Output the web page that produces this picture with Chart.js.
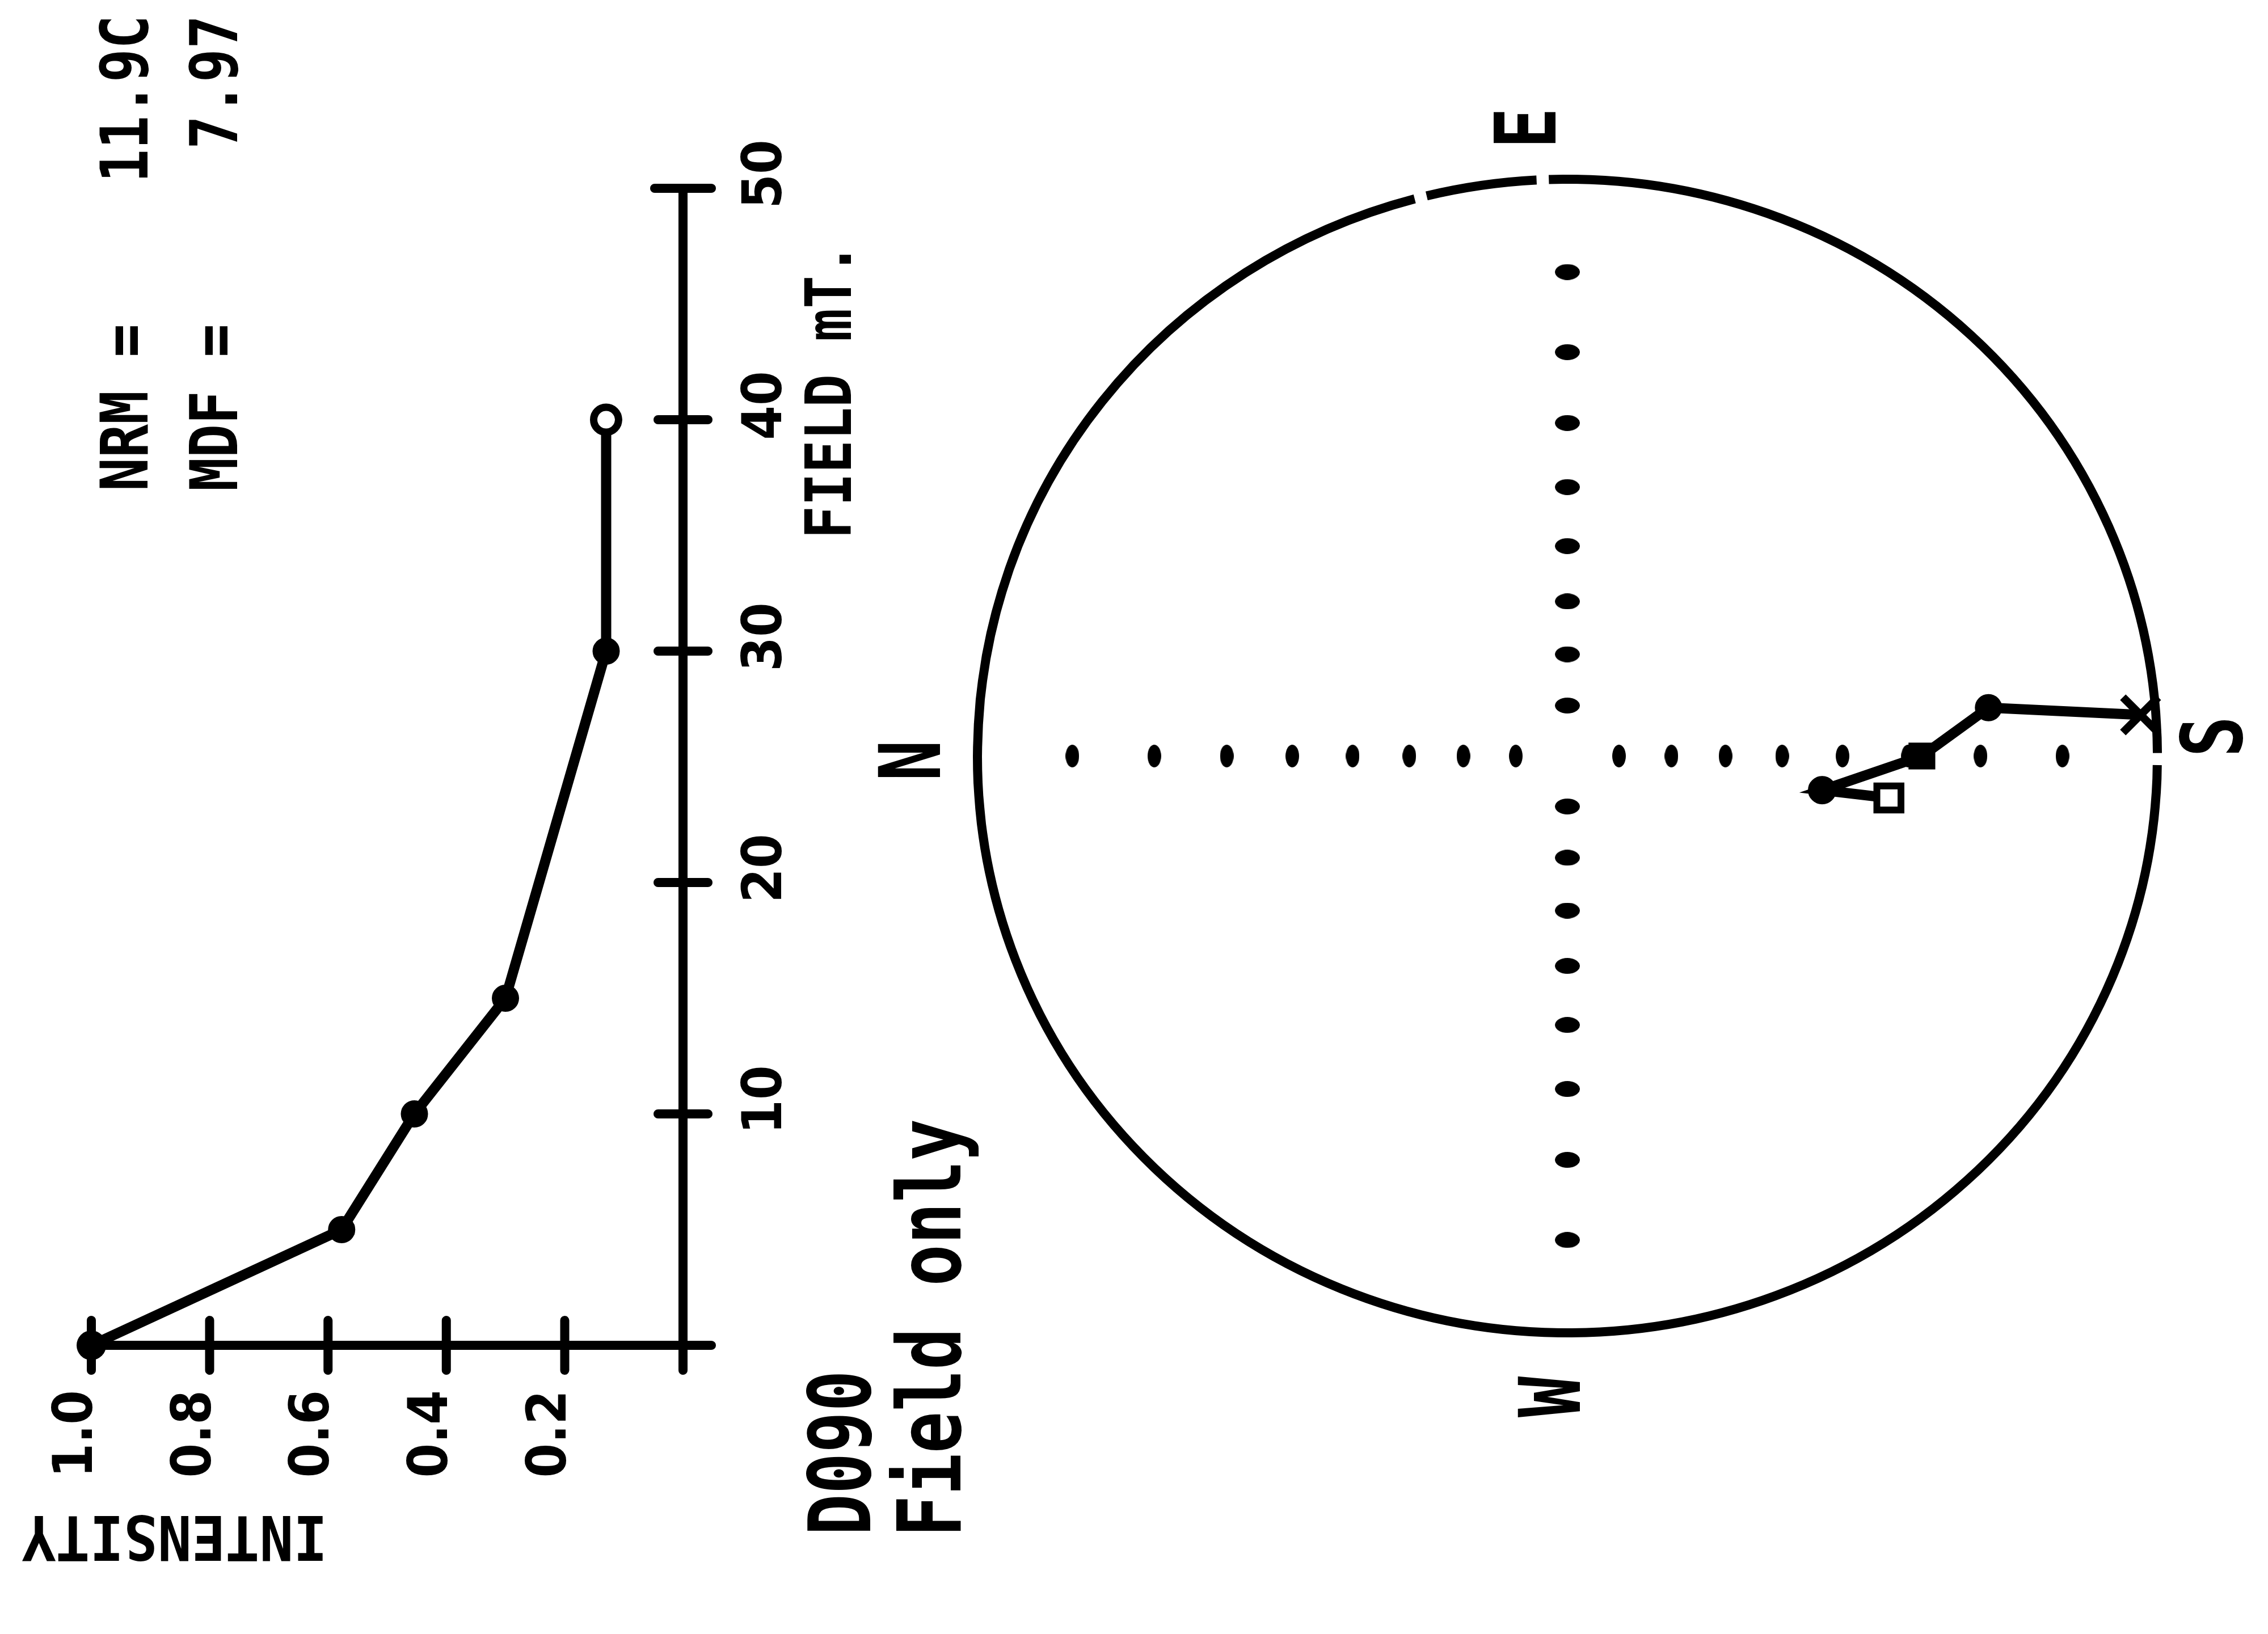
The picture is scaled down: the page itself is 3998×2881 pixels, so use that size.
<!DOCTYPE html>
<html>
<head>
<meta charset="utf-8">
<title>D090 AF demagnetisation</title>
<script src="https://cdn.jsdelivr.net/npm/chart.js@4.4.1/dist/chart.umd.min.js"></script>
<style>
  html, body { margin: 0; padding: 0; background: #fff; overflow: hidden; }
  body { width: 3998px; height: 2881px; position: relative; }
  /* the sheet is plotted upright, then turned onto its side */
  #page { position: absolute; left: 0; top: 0; width: 2881px; height: 3998px;
          transform-origin: 0 0; transform: translateY(2881px) rotate(-90deg); }
  #page canvas { position: absolute; left: 0; }
  .txt { position: absolute; white-space: pre; line-height: 1; color: #000;
         font-family: 'DejaVu Sans Mono', monospace; font-weight: bold; transform-origin: 0 0; }
</style>
</head>
<body>
<div id="page">
  <canvas id="decay" width="2881" height="1600" style="top:0"></canvas>
  <canvas id="net" width="2881" height="2498" style="top:1500px"></canvas>

  <div class="txt" style="left:2015px;top:162px;font-size:116px;transform:scaleX(0.845)">NRM =</div>
  <div class="txt" style="left:2559px;top:162px;font-size:116px;transform:scaleX(0.845)">11.9C</div>
  <div class="txt" style="left:2015px;top:320px;font-size:116px;transform:scaleX(0.845)">MDF =</div>
  <div class="txt" style="left:2618px;top:320px;font-size:116px;transform:scaleX(0.845)">7.97</div>

  <div class="txt" style="left:117px;top:577px;font-size:108px;transform:rotate(-90deg) scaleX(0.92)">INTENSITY</div>
  <div class="txt" style="left:1931px;top:1405px;font-size:112px;transform:scaleX(0.86)">FIELD mT.</div>

  <div class="txt" style="left:174px;top:1407px;font-size:151px;transform:scaleX(0.8)">D090</div>
  <div class="txt" style="left:171px;top:1562px;font-size:155px;transform:scaleX(0.79)">Field only</div>

  <div class="txt" style="left:1504px;top:1530px;font-size:150px;transform:scaleX(0.8)">N</div>
  <div class="txt" style="left:2619px;top:2615px;font-size:150px;transform:scaleX(0.8)">E</div>
  <div class="txt" style="left:1546px;top:3825px;font-size:150px;transform:scaleX(0.8)">S</div>
  <div class="txt" style="left:382px;top:2658px;font-size:150px;transform:scaleX(0.8)">W</div>
</div>

<script>
// AF steps (mT) and intensity normalised to NRM
const fieldSteps = [0, 5, 10, 15, 30, 40];
const intensity = [1.0, 0.577, 0.454, 0.30, 0.13, 0.13];
const fieldTicks = [0, 10, 20, 30, 40, 50];
const intensityTicks = [0, 0.2, 0.4, 0.6, 0.8, 1.0];

// remanence directions along the demagnetisation path (degrees)
const declination = [187.6, 187.8, 180.0, 173.3, 175.8];
const inclination = [32.4, 42.9, 28.0, 18.6, 1.5];

// inclination marks on the N-S and E-W diameters
const netInclinations = [10, 20, 30, 40, 50, 60, 70, 80];

const RAD = Math.PI / 180;

// Wulff (stereographic) projection, north up, east right
function stereo(dec, inc) {
  const r = Math.tan((90 - Math.abs(inc)) / 2 * RAD);
  return { x: r * Math.sin(dec * RAD), y: r * Math.cos(dec * RAD) };
}

function dash(w, h) {
  const c = document.createElement('canvas');
  c.width = w; c.height = h;
  const g = c.getContext('2d');
  g.fillStyle = '#000';
  g.beginPath();
  g.ellipse(w / 2, h / 2, w / 2, h / 2, 0, 0, 2 * Math.PI);
  g.fill();
  return c;
}

const tickFont = { family: "'DejaVu Sans Condensed', 'DejaVu Sans', sans-serif", weight: 'bold', size: 97 };

// axes cross at the origin, ticks go through the axis line
const crossAxes = {
  id: 'crossAxes',
  beforeDatasetsDraw(chart) {
    const { ctx, scales: { x, y } } = chart;
    const x0 = x.getPixelForValue(0), y0 = y.getPixelForValue(0);
    const fMax = fieldTicks[fieldTicks.length - 1];
    ctx.save();
    ctx.strokeStyle = '#000';
    ctx.lineWidth = 16;
    ctx.lineCap = 'round';
    ctx.beginPath();
    ctx.moveTo(x0, y.getPixelForValue(1) - 6);
    ctx.lineTo(x0, y0 + 50);
    ctx.moveTo(x0 - 44, y0);
    ctx.lineTo(x.getPixelForValue(fMax), y0);
    fieldTicks.forEach(v => {
      if (!v) return;
      const px = x.getPixelForValue(v), h = v === fMax ? 50 : 44;
      ctx.moveTo(px, y0 - h);
      ctx.lineTo(px, y0 + h);
    });
    intensityTicks.forEach(v => {
      if (!v) return;
      const py = y.getPixelForValue(v);
      ctx.moveTo(x0 - 44, py);
      ctx.lineTo(x0 + 44, py);
    });
    ctx.stroke();
    ctx.restore();
  }
};

new Chart(document.getElementById('decay'), {
  type: 'scatter',
  data: {
    datasets: [{
      data: fieldSteps.map((f, i) => ({ x: f, y: intensity[i] })),
      showLine: true,
      borderColor: '#000',
      borderWidth: 18,
      clip: false,
      pointStyle: 'circle',
      pointRadius: [25, 23, 23, 23, 23, 22],
      pointBackgroundColor: ['#000', '#000', '#000', '#000', '#000', '#fff'],
      pointBorderColor: '#000',
      pointBorderWidth: [2, 2, 2, 2, 2, 13]
    }]
  },
  options: {
    responsive: false,
    animation: false,
    devicePixelRatio: 1,
    layout: { padding: { left: 0, top: 161, right: 332, bottom: 0 } },
    plugins: { legend: { display: false }, tooltip: { enabled: false } },
    scales: {
      x: {
        type: 'linear', min: 0, max: 50,
        grid: { display: false, drawTicks: false },
        border: { display: false },
        afterBuildTicks: s => { s.ticks = fieldTicks.map(v => ({ value: v })); },
        afterFit: s => { s.height = 396; },
        ticks: { padding: 90, labelOffset: 25, color: '#000', font: tickFont,
                 maxRotation: 0, autoSkip: false, callback: v => v === 0 ? '' : String(v) }
      },
      y: {
        type: 'linear', min: 0, max: 1,
        grid: { display: false, drawTicks: false },
        border: { display: false },
        afterBuildTicks: s => { s.ticks = intensityTicks.map(v => ({ value: v })); },
        afterFit: s => { s.width = 509; },
        ticks: { padding: 79, labelOffset: -24, color: '#000', font: tickFont,
                 autoSkip: false, callback: v => v === 0 ? '' : v.toFixed(1) }
      }
    }
  },
  plugins: [crossAxes]
});

// primitive circle of the net, drawn by the pen in arcs with small breaks
const primitive = {
  id: 'primitive',
  beforeDatasetsDraw(chart) {
    const { ctx, scales: { x, y } } = chart;
    const cx = x.getPixelForValue(0), cy = y.getPixelForValue(0);
    const rx = x.getPixelForValue(1) - cx, ry = cy - y.getPixelForValue(1);
    const breaks = [-14.4, -2.4, 90.3];
    const half = 0.6;
    ctx.save();
    ctx.strokeStyle = '#000';
    ctx.lineWidth = 16;
    breaks.forEach((b, i) => {
      const next = i + 1 < breaks.length ? breaks[i + 1] : breaks[0] + 360;
      ctx.beginPath();
      ctx.ellipse(cx, cy, rx, ry, 0, (b + half) * RAD, (next - half) * RAD);
      ctx.stroke();
    });
    ctx.restore();
  }
};

new Chart(document.getElementById('net'), {
  type: 'scatter',
  data: {
    datasets: [
      {
        data: netInclinations.flatMap(i => [stereo(0, i), stereo(180, i)]),
        pointStyle: dash(40, 24),
        clip: false
      },
      {
        data: netInclinations.flatMap(i => [stereo(90, i), stereo(270, i)]),
        pointStyle: dash(28, 44),
        clip: false
      },
      {
        data: declination.map((d, i) => stereo(d, inclination[i])),
        showLine: true,
        borderColor: '#000',
        borderWidth: 18,
        clip: false,
        pointStyle: ['rect', 'circle', 'rect', 'circle', 'crossRot'],
        pointRadius: [30, 24, 32, 23, 44],
        pointBackgroundColor: ['#fff', '#000', '#000', '#000', '#000'],
        pointBorderColor: '#000',
        pointBorderWidth: [12, 2, 2, 2, 14]
      }
    ]
  },
  options: {
    responsive: false,
    animation: false,
    devicePixelRatio: 1,
    layout: { padding: { left: 531, right: 316, top: 223, bottom: 195 } },
    plugins: { legend: { display: false }, tooltip: { enabled: false } },
    scales: {
      x: { type: 'linear', min: -1, max: 1, display: false },
      y: { type: 'linear', min: -1, max: 1, display: false }
    }
  },
  plugins: [primitive]
});
</script>
</body>
</html>
